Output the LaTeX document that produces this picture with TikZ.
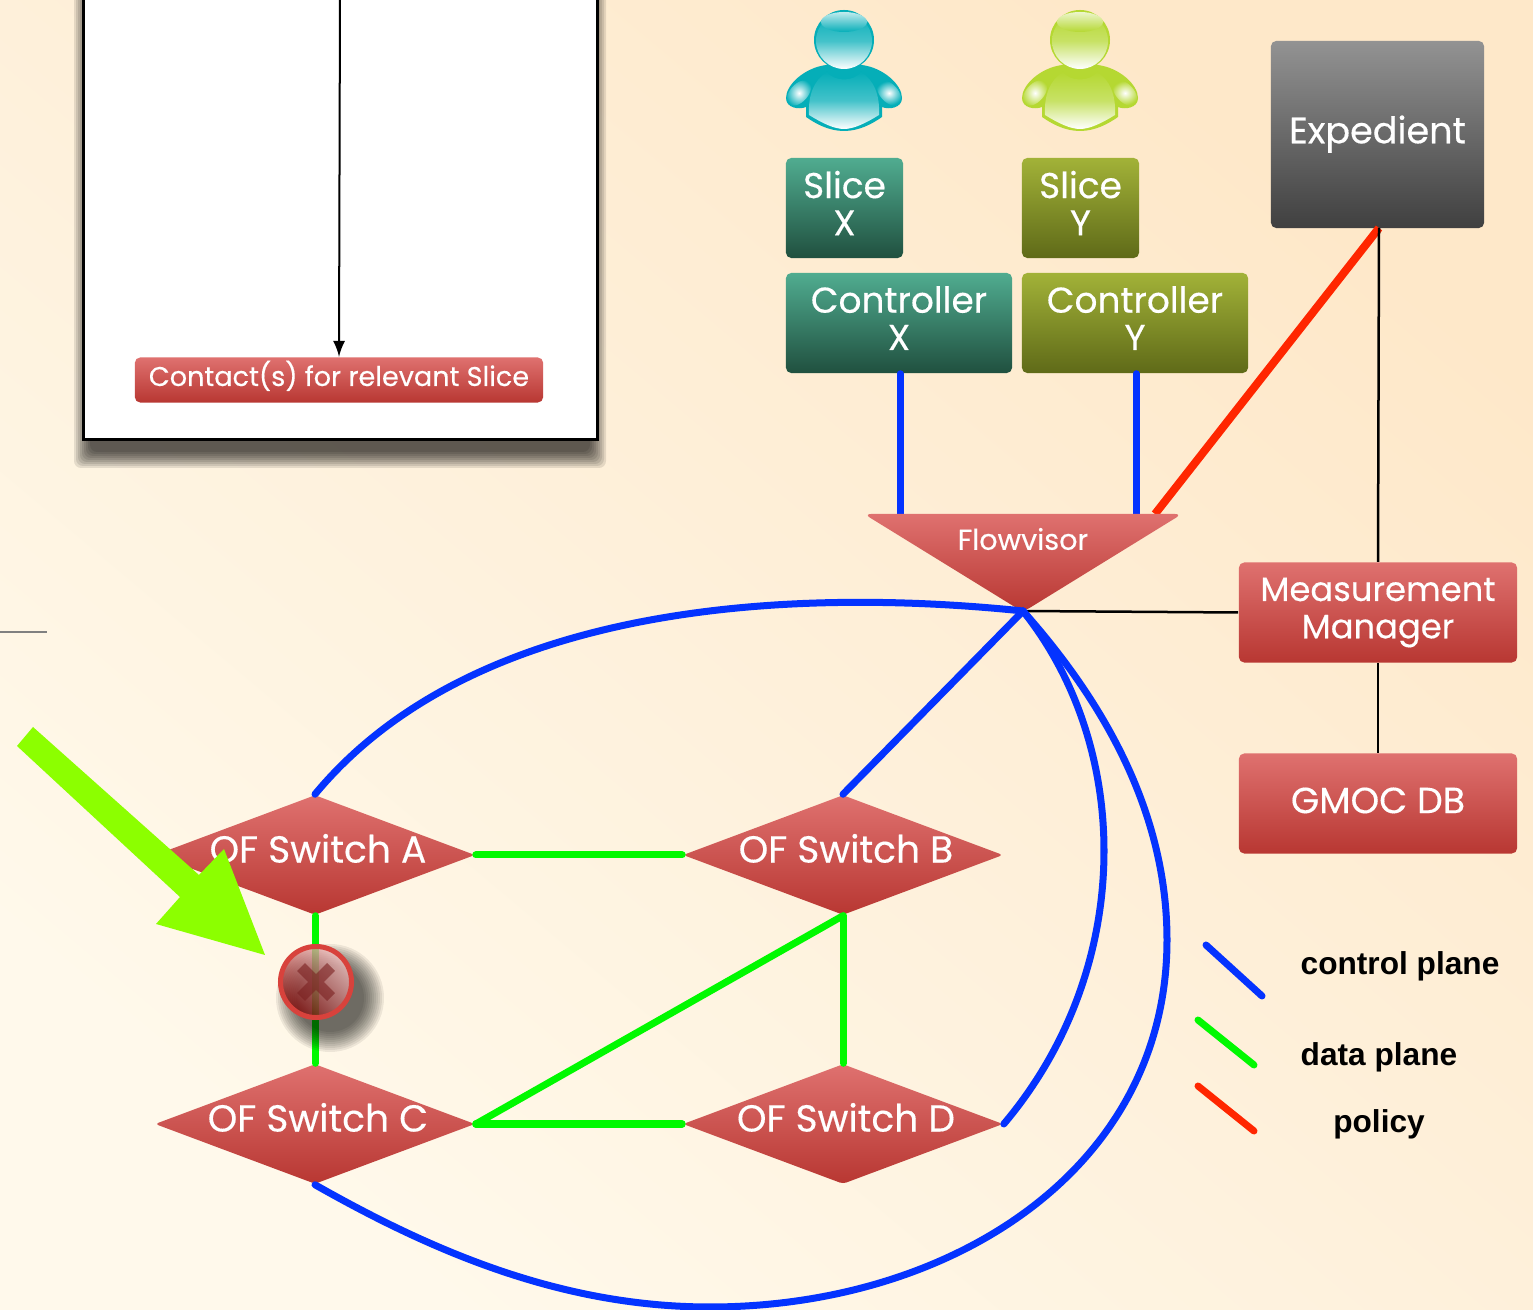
\documentclass[tikz,border=0pt]{standalone}
\usepackage{fontspec}
\setmainfont{Poppins}[FakeBold=0.35]
\newfontfamily\legendfont{Liberation Sans}
\usetikzlibrary{shapes.geometric}
\definecolor{bgdark}{HTML}{FEE8C9}
\definecolor{bgmid}{HTML}{FEF0DA}
\definecolor{bglight}{HTML}{FFF9EB}
\definecolor{redtop}{HTML}{DF716F}
\definecolor{redbot}{HTML}{B83732}
\definecolor{tealtop}{HTML}{50AC90}
\definecolor{tealbot}{HTML}{20503F}
\definecolor{olivetop}{HTML}{A2B238}
\definecolor{olivebot}{HTML}{5F6A18}
\definecolor{ctrlblue}{HTML}{0433FF}
\definecolor{datagreen}{HTML}{00F900}
\definecolor{policyred}{HTML}{FF2600}
\definecolor{biglime}{HTML}{8CFF00}
\definecolor{failring}{HTML}{D8423C}
\definecolor{failcross}{HTML}{7A2020}
\definecolor{personx}{HTML}{05AEB8}
\definecolor{persony}{HTML}{B5D832}
\tikzset{
    box/.style={rectangle,rounded corners=1.5pt,align=center,text=white,inner sep=0pt,
        font=\fontsize{10.2}{10.6}\selectfont},
    redbox/.style={box,top color=redtop,bottom color=redbot},
    tealbox/.style={box,top color=tealtop,bottom color=tealbot},
    olivebox/.style={box,top color=olivetop,bottom color=olivebot},
    switch/.style={diamond,aspect=2.67,minimum width=3.2cm,minimum height=1.2cm,inner sep=0pt,
        rounded corners=1pt,top color=redtop,bottom color=redbot,text=white,
        font=\fontsize{10.7}{12}\selectfont,text height=6pt,text depth=1.7pt,
        execute at begin node=\hspace*{1.7pt}},
    ctrlline/.style={ctrlblue,line width=0.07cm,line cap=round},
    dataline/.style={datagreen,line width=0.07cm,line cap=round},
    policyline/.style={policyred,line width=0.07cm,line cap=round},
    mgmtline/.style={black,line width=0.025cm},
    legendtext/.style={font=\legendfont\bfseries\fontsize{9}{11}\selectfont,text=black,inner sep=0pt}
}
\begin{document}
\begin{tikzpicture}[>=latex,x=0.01cm,y=-0.01cm]
    \useasboundingbox (0,0) rectangle (1533,1310);
    \clip (0,0) rectangle (1533,1310);
    \shade[top color=bgdark,bottom color=bglight,middle color=bgmid,shading angle=-40] (0,0) rectangle (1533,1310);

    \draw[gray,line width=0.02cm] (0,632)--(47,632);
    \foreach \r in {12,10,...,-4}
    {
        \fill[black,opacity=0.1,rounded corners=2pt] (86-\r,-40) rectangle (594+\r,456+\r);
    }
    \draw[black,line width=0.03cm,fill=white] (83,-40) rectangle (597,440);

    \foreach \x/\c in {844/personx,1080/persony}
    {
        \begin{scope}[shift={(\x,0)}]
            \fill[\c] (0,131) .. controls (-15,131) and (-28,124) .. (-38,117)--(-38,107)
                .. controls (-45,110) and (-58,108) .. (-58,98)
                .. controls (-58,85) and (-40,68) .. (-18,65)--(18,65)
                .. controls (40,68) and (58,85) .. (58,98)
                .. controls (58,108) and (45,110) .. (38,107)--(38,117)
                .. controls (28,124) and (15,131) .. (0,131)--cycle;
            \shade[top color=\c,bottom color=white,middle color=\c!75!white] (-17,72)
                .. controls (-30,80) and (-36,95) .. (-35,115)
                .. controls (-22,123) and (-10,129) .. (0,129)
                .. controls (10,129) and (22,123) .. (35,115)
                .. controls (36,95) and (30,80) .. (17,72)
                .. controls (10,82) and (-10,82) .. (-17,72)--cycle;
            \foreach \s/\r in {-1/-42,1/42}
            {
                \shade[inner color=white,outer color=\c] (\s*45,93) ellipse[x radius=9,y radius=15,rotate=\r];
            }
            \fill[\c] (0,40) circle[radius=30];
            \shade[top color=\c,bottom color=white,middle color=\c!75!white] (0,41) circle[radius=28];
            \shade[top color=\c!25!white,bottom color=\c] (0,22) ellipse[x radius=23,y radius=10];
        \end{scope}
    }

    \node[redbox,minimum width=4.08cm,minimum height=0.45cm,font=\fontsize{7.7}{9}\selectfont,text height=5.6pt,text depth=2.2pt] (contact) at (339,380){Contact(s) for relevant Slice};
    \node[tealbox,minimum width=1.17cm,minimum height=1cm] (slicex) at (844.5,208){Slice\\X\\[-7.8pt]};
    \node[olivebox,minimum width=1.17cm,minimum height=1cm] (slicey) at (1080.5,208){Slice\\Y\\[-7.8pt]};
    \node[tealbox,minimum width=2.26cm,minimum height=1cm] (ctrlx) at (899,323){Controller\\X\\[-7.8pt]};
    \node[olivebox,minimum width=2.26cm,minimum height=1cm] (ctrly) at (1135,323){Controller\\Y\\[-7.8pt]};
    \node[box,top color=gray!85!white,bottom color=black!75,minimum width=2.13cm,minimum height=1.87cm,font=\fontsize{10.4}{11}\selectfont,text height=7.4pt,text depth=2.4pt] (expedient) at (1377.5,134.5){Expedient};
    \node[redbox,minimum width=2.78cm,minimum height=1cm,font=\fontsize{9.6}{10.6}\selectfont] (manager) at (1378,612.5){Measurement\\Manager};
    \node[redbox,minimum width=2.78cm,minimum height=1cm,font=\fontsize{10.35}{11}\selectfont,text height=7.2pt,text depth=1.7pt] (gmoc) at (1378,803.5){GMOC DB};

    \coordinate (fvx) at (900,514);
    \coordinate (fvy) at (1136,514);
    \coordinate (fvpolicy) at (1155,514);
    \coordinate (fvtip) at (1023,611);
    \coordinate (expout) at (1379,228);

    \draw[->,line width=0.02cm] (340,-10)--(contact.north);
    \draw[ctrlline] (ctrlx.south-|fvx)--(fvx);
    \draw[ctrlline] (ctrly.south-|fvy)--(fvy);
    \draw[policyline,line width=0.08cm,line cap=butt] (expout)--(fvpolicy);
    \draw[mgmtline] (expout)--(manager.north);
    \draw[mgmtline] (manager.south)--(gmoc.north);
    \draw[mgmtline] (fvtip)--(manager.west);

    \shade[top color=redtop,bottom color=redbot,rounded corners=2pt] (864,514)--(1182,514)--(1023,612)--cycle;
    \node[text=white,inner sep=0pt,font=\fontsize{8.15}{9}\selectfont] (flowvisor) at (1023,539){Flowvisor};

    \node[switch] (swa) at (315,855){OF Switch A};
    \node[switch] (swb) at (843,855){OF Switch B};
    \node[switch] (swc) at (315,1124){OF Switch C};
    \node[switch] (swd) at (843,1124){OF Switch D};

    \draw[dataline] (swa.east)--(swb.west);
    \draw[dataline] (swc.east)--(swd.west);
    \draw[dataline] (swa.south)--(swc.north);
    \draw[dataline] (swb.south)--(swd.north);
    \draw[dataline] (swb.south)--(swc.east);

    \draw[ctrlline] (fvtip) .. controls (850,593) and (490,583) .. (swa.north);
    \draw[ctrlline] (fvtip)--(swb.north);
    \draw[ctrlline] (fvtip) .. controls (1134,750) and (1134,970) .. (swd.east);
    \draw[ctrlline] (fvtip) .. controls (1120,720) and (1167,830) .. (1167,940)
        .. controls (1167,1170) and (950,1307) .. (710,1307)
        .. controls (560,1307) and (430,1250) .. (swc.south);

    \fill[biglime] (33,727)--(17,746)--(180,897)--(156,924)--(265,955)--(224,849)--(199,875)--cycle;

    \foreach \r in {54,52,...,34}
    {
        \fill[black,opacity=0.07] (330,998) circle[radius=\r];
    }
    \node[circle,minimum size=0.71cm,inner sep=0pt,draw=failring,line width=0.05cm,
        left color=white!80!red,right color=red!50!black,shading angle=-45,fill opacity=0.75] (fail) at (316,982){};
    \draw[failcross,opacity=0.6,line width=0.11cm] (301,967)--(331,997) (331,967)--(301,997);

    \foreach \a/\b/\c/\d/\n in {1206/945/1262/996/ctrlline,1198/1020/1254/1065/dataline,1198/1086/1254/1131/policyline}
    {
        \draw[\n] (\a,\b)--(\c,\d);
    }
    \node[legendtext] (legctrl) at (1400,966){control plane};
    \node[legendtext] (legdata) at (1379,1057){data plane};
    \node[legendtext] (legpolicy) at (1379,1124){policy};
\end{tikzpicture}
\end{document}
